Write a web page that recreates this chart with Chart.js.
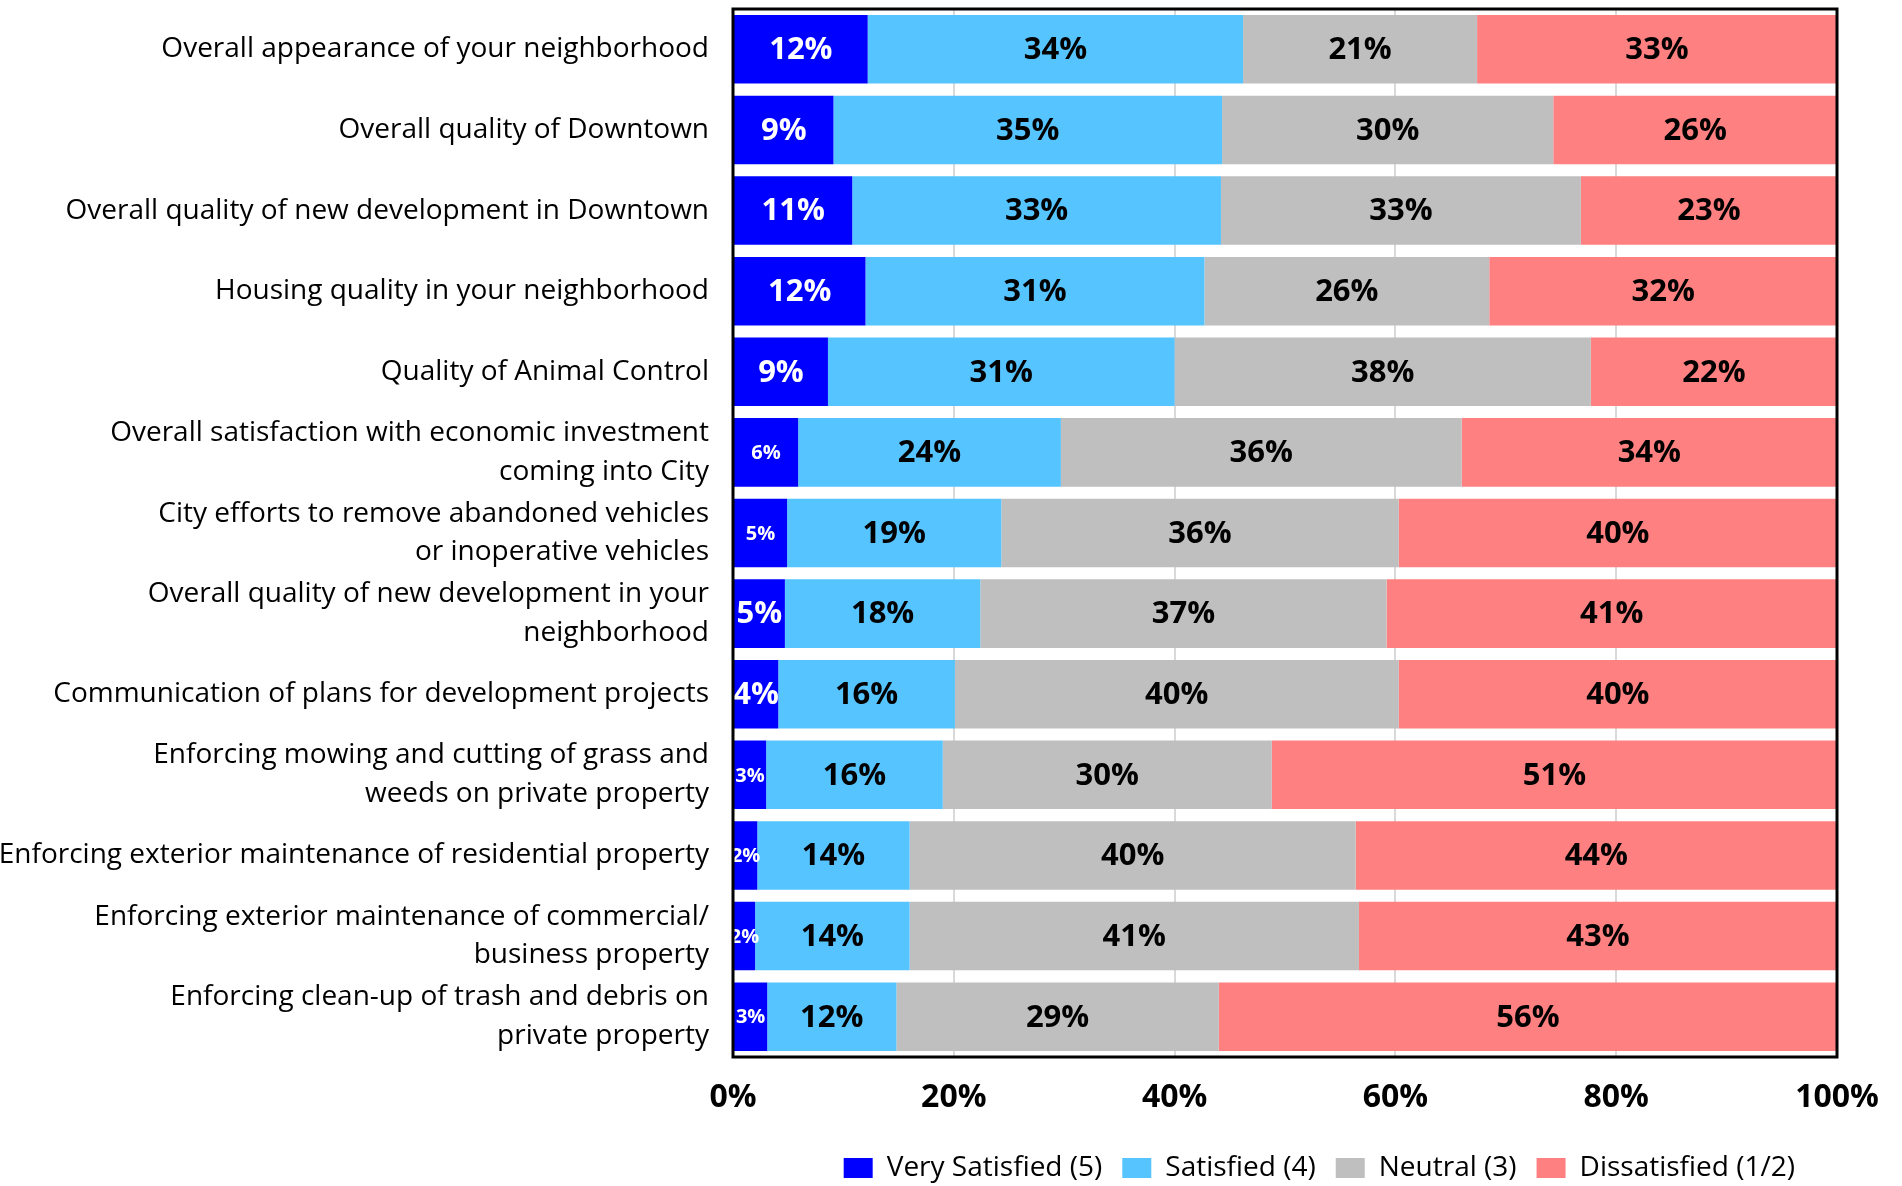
<!DOCTYPE html>
<html>
<head>
<meta charset="utf-8">
<title>Satisfaction chart</title>
<script src="https://cdn.jsdelivr.net/npm/chart.js@4.4.1/dist/chart.umd.min.js"></script>
<style>
  html, body { margin: 0; padding: 0; background: #fff; }
  #wrap { width: 1902px; height: 1186px; }
</style>
</head>
<body>
<div id="wrap"><canvas id="chart" width="1902" height="1186"></canvas></div>
<script>
const categories = [
  'Overall appearance of your neighborhood',
  'Overall quality of Downtown',
  'Overall quality of new development in Downtown',
  'Housing quality in your neighborhood',
  'Quality of Animal Control',
  ['Overall satisfaction with economic investment', 'coming into City'],
  ['City efforts to remove abandoned vehicles', 'or inoperative vehicles'],
  ['Overall quality of new development in your', 'neighborhood'],
  'Communication of plans for development projects',
  ['Enforcing mowing and cutting of grass and', 'weeds on private property'],
  'Enforcing exterior maintenance of residential property',
  ['Enforcing exterior maintenance of commercial/', 'business property'],
  ['Enforcing clean-up of trash and debris on', 'private property']
];

const verySatisfied = [12.2, 9.1, 10.8, 12.0, 8.6, 5.9, 4.9, 4.7, 4.1, 3.0, 2.2, 2.0, 3.1];
const satisfied     = [34.0, 35.2, 33.4, 30.7, 31.4, 23.8, 19.4, 17.7, 16.0, 16.0, 13.8, 14.0, 11.7];
const neutral       = [21.2, 30.0, 32.6, 25.8, 37.7, 36.3, 36.0, 36.8, 40.2, 29.8, 40.4, 40.7, 29.2];
const dissatisfied  = [32.6, 25.7, 23.2, 31.5, 22.3, 34.0, 39.7, 40.8, 39.7, 51.2, 43.6, 43.3, 56.0];

const seriesNames = ['Very Satisfied (5)', 'Satisfied (4)', 'Neutral (3)', 'Dissatisfied (1/2)'];
const xTicks = [0, 20, 40, 60, 80, 100];

// rows where the dark blue label is printed smaller
const smallBlueRows = [5, 6, 9, 10, 11, 12];

const FONT = '"Open Sans", "DejaVu Sans", sans-serif';

const barLabels = {
  id: 'barLabels',
  afterDatasetsDraw(chart) {
    const ctx = chart.ctx;
    ctx.save();
    ctx.textAlign = 'center';
    ctx.textBaseline = 'middle';
    chart.data.datasets.forEach((ds, di) => {
      const meta = chart.getDatasetMeta(di);
      meta.data.forEach((bar, i) => {
        const small = di === 0 && smallBlueRows.includes(i);
        ctx.font = 'bold ' + (small ? 20 : 31) + 'px ' + FONT;
        ctx.fillStyle = di === 0 ? '#ffffff' : '#000000';
        ctx.fillText(Math.round(ds.data[i]) + '%', (bar.x + bar.base) / 2, bar.y + 1);
      });
    });
    ctx.restore();
  }
};

const plotFrame = {
  id: 'plotFrame',
  afterLayout(chart) {
    // nudge the legend a little to the left, like the original
    chart.legend.right -= 22;
  },
  afterDraw(chart) {
    const a = chart.chartArea;
    const ctx = chart.ctx;
    ctx.save();
    ctx.strokeStyle = '#000';
    ctx.lineWidth = 3;
    ctx.strokeRect(a.left, a.top, a.right - a.left, a.bottom - a.top);
    ctx.restore();
  }
};

new Chart(document.getElementById('chart'), {
  type: 'bar',
  data: {
    labels: categories,
    datasets: [
      { label: seriesNames[0], data: verySatisfied, backgroundColor: '#0000FF' },
      { label: seriesNames[1], data: satisfied, backgroundColor: '#56C4FF' },
      { label: seriesNames[2], data: neutral, backgroundColor: '#BFBFBF' },
      { label: seriesNames[3], data: dissatisfied, backgroundColor: '#FF8080' }
    ]
  },
  options: {
    indexAxis: 'y',
    responsive: false,
    animation: false,
    devicePixelRatio: 1,
    layout: { padding: { top: 9, right: 65, left: 0, bottom: -6 } },
    datasets: { bar: { barPercentage: 0.85, categoryPercentage: 1, borderWidth: 0 } },
    scales: {
      x: {
        stacked: true,
        min: 0,
        max: 100,
        afterBuildTicks: (scale) => { scale.ticks = xTicks.map(v => ({ value: v })); },
        afterFit: (scale) => { scale.height = 77; },
        grid: { color: '#D9D9D9', lineWidth: 2, drawTicks: false },
        border: { display: false },
        ticks: {
          padding: 22,
          color: '#000',
          font: { family: FONT, size: 32, weight: 'bold' },
          callback: (v) => v + '%'
        }
      },
      y: {
        stacked: true,
        afterFit: (scale) => {
          scale.width = 733;
          scale.paddingTop = 0;
          scale.paddingBottom = 0;
        },
        grid: { display: false, drawTicks: false },
        border: { display: false },
        ticks: {
          autoSkip: false,
          padding: 24,
          color: '#000',
          font: { family: FONT, size: 28, lineHeight: 1.38 }
        }
      }
    },
    plugins: {
      legend: {
        position: 'bottom',
        align: 'end',
        labels: {
          boxWidth: 29,
          boxHeight: 20,
          padding: 20,
          color: '#000',
          font: { family: FONT, size: 28 }
        }
      },
      tooltip: { enabled: false }
    }
  },
  plugins: [barLabels, plotFrame]
});
</script>
</body>
</html>
